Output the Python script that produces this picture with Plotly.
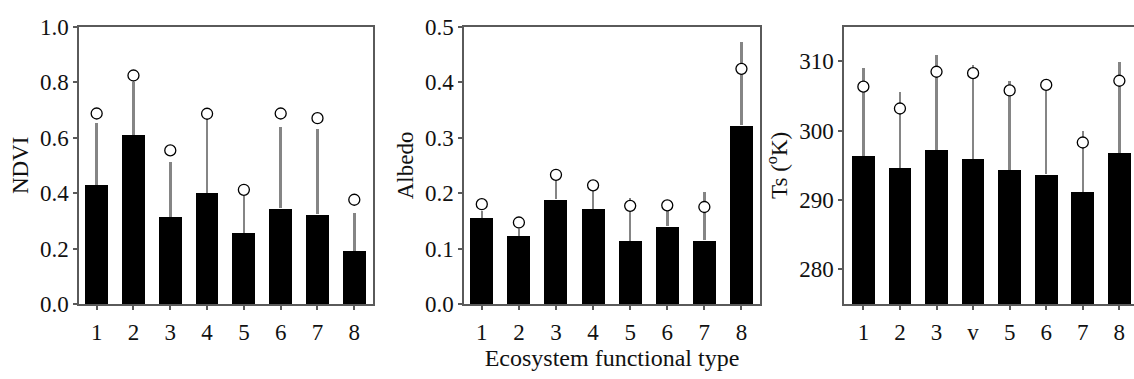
import plotly.graph_objects as go

types = [1, 2, 3, 4, 5, 6, 7, 8]
ts_ticktext = ["1", "2", "3", "v", "5", "6", "7", "8"]

ndvi_mean = [0.429, 0.609, 0.314, 0.401, 0.256, 0.345, 0.323, 0.192]
ndvi_err = [0.225, 0.191, 0.197, 0.265, 0.132, 0.292, 0.309, 0.135]
ndvi_circle = [0.687, 0.824, 0.554, 0.686, 0.412, 0.687, 0.670, 0.376]

albedo_mean = [0.155, 0.123, 0.189, 0.172, 0.114, 0.140, 0.115, 0.322]
albedo_err = [0.012, 0.013, 0.034, 0.032, 0.077, 0.027, 0.087, 0.151]
albedo_circle = [0.180, 0.147, 0.233, 0.214, 0.177, 0.178, 0.175, 0.424]

ts_mean = [296.4, 294.6, 297.2, 295.9, 294.4, 293.7, 291.2, 296.8]
ts_err = [12.6, 11.0, 13.7, 13.6, 12.8, 12.3, 8.7, 13.1]
ts_circle = [306.35, 303.2, 308.5, 308.3, 305.8, 306.6, 298.3, 307.2]

FONT = "Liberation Serif"
TXT = "#111111"
W, H = 1134, 379

fig = go.Figure()

panels = [
    (ndvi_mean, ndvi_err, ndvi_circle, "x", "y", 0),
    (albedo_mean, albedo_err, albedo_circle, "x2", "y2", 0),
    (ts_mean, ts_err, ts_circle, "x3", "y3", 275),
]
for mean, err, circ, xa, ya, base in panels:
    fig.add_trace(go.Bar(
        x=types, y=[m - base for m in mean], base=base, width=0.62,
        marker=dict(color="black", line=dict(width=0)),
        error_y=dict(type="data", array=err, arrayminus=[0] * len(err), symmetric=False,
                     color="#858585", thickness=2.5, width=0),
        xaxis=xa, yaxis=ya, showlegend=False,
    ))
    fig.add_trace(go.Scatter(
        x=types, y=circ, mode="markers",
        marker=dict(size=11, color="white", line=dict(color="black", width=1.3)),
        xaxis=xa, yaxis=ya, showlegend=False, cliponaxis=False,
    ))

ydom = [(H - 312.7) / H, (H - 15.7) / H]
axline = dict(showline=True, linecolor="#5a5a5a", linewidth=1.5, ticks="outside",
              ticklen=4, tickcolor="#5a5a5a", tickwidth=1.5, showgrid=False, zeroline=False,
              tickfont=dict(family=FONT, size=23, color=TXT))

common_x = dict(axline, tickmode="array", tickvals=types, ticklabelstandoff=3)
tfont = dict(family=FONT, size=23, color=TXT)

fig.update_layout(
    width=W, height=H, margin=dict(l=0, r=0, t=0, b=0),
    paper_bgcolor="white", plot_bgcolor="white",
    bargap=0,
    font=dict(family=FONT, size=23, color=TXT),
    xaxis=dict(common_x, domain=[79 / W, 372.7 / W], range=[0.52, 8.5], anchor="y",
               ticktext=[str(t) for t in types], mirror=True),
    yaxis=dict(axline, domain=ydom, range=[0, 1.0], tickvals=[0, 0.2, 0.4, 0.6, 0.8, 1.0],
               tickformat=".1f", anchor="x", mirror=True,
               title=dict(text="NDVI", font=tfont, standoff=5)),
    xaxis2=dict(common_x, domain=[464 / W, 760 / W], range=[0.52, 8.5], anchor="y2",
                ticktext=[str(t) for t in types], mirror=True,
                title=dict(text="Ecosystem functional type",
                           font=dict(family=FONT, size=24, color=TXT), standoff=4)),
    yaxis2=dict(axline, domain=ydom, range=[0, 0.5], tickvals=[0, 0.1, 0.2, 0.3, 0.4, 0.5],
                tickformat=".1f", anchor="x2", mirror=True,
                title=dict(text="Albedo", font=tfont, standoff=5)),
    xaxis3=dict(common_x, domain=[844 / W, 1.0], range=[0.47, 8.4], anchor="y3",
                ticktext=ts_ticktext, mirror=True),
    yaxis3=dict(axline, domain=ydom, range=[275, 315], tickvals=[280, 290, 300, 310],
                anchor="x3", mirror=False,
                title=dict(text="Ts (<sup>o</sup>K)", font=tfont, standoff=5)),
)

fig.write_html("out.html")
